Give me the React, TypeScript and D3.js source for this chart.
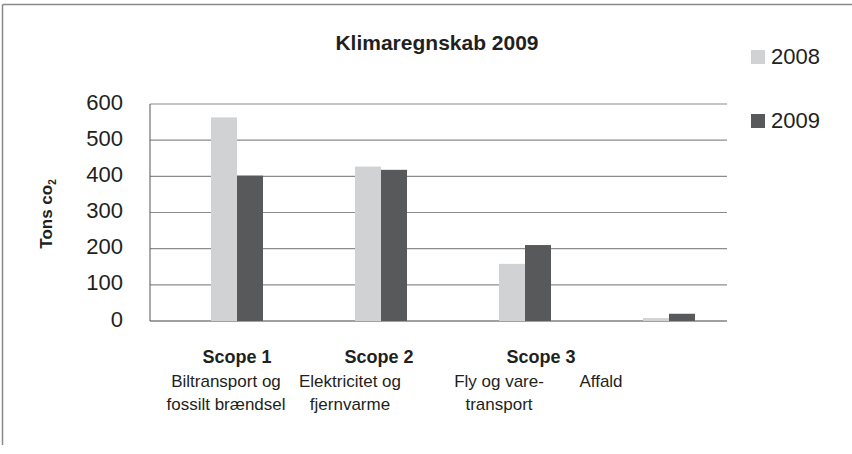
import React from "react";
import * as d3 from "d3";

const categories = ["Biltransport og fossilt brændsel", "Elektricitet og fjernvarme", "Fly og varetransport", "Affald"];
const categoryLines = [
  ["Biltransport og", "fossilt brændsel"],
  ["Elektricitet og", "fjernvarme"],
  ["Fly og vare-", "transport"],
  ["Affald"],
];
const scopeLabels = ["Scope 1", "Scope 2", "Scope 3"];
const scopeOf = [0, 1, 2, 2];
const seriesNames = ["2008", "2009"];
const values2008 = [563, 427, 158, 8];
const values2009 = [402, 418, 210, 20];
const yTicks = [0, 100, 200, 300, 400, 500, 600];

const title = "Klimaregnskab 2009";
const colors: Record<string, string> = { "2008": "#d1d2d4", "2009": "#58595b" };

// layout (not data)
const labelDx = [-11, -31, -26, -68];
const scopeDx = [0, -2, -56];
const FONT = "'Liberation Sans', Arial, Helvetica, sans-serif";
const TEXT = "#231f20";

export default function App() {
  const W = 852, H = 454;
  const plotLeft = 150, plotRight = 727;
  const y = d3.scaleLinear().domain([0, 600]).range([321, 104]);
  const x0 = d3.scaleBand<string>().domain(categories).range([165, 741]);
  const x1 = d3.scaleBand<string>().domain(seriesNames).range([0, 52]);
  const series = [values2008, values2009];
  const center = (i: number) => (x0(categories[i]) as number) + x0.bandwidth() / 2;

  const scopeX = scopeLabels.map((_, s) => {
    const idx = scopeOf.map((v, i) => (v === s ? i : -1)).filter((i) => i >= 0);
    return d3.mean(idx.map((i) => center(i))) as number;
  });

  return (
    <svg width={W} height={H} style={{ position: "absolute", left: 0, top: 0, background: "#fff" }} fontFamily={FONT}>
      <rect x={0} y={0} width={W} height={H} fill="#fff" />
      {/* outer frame */}
      <line x1={2.5} x2={W} y1={4.5} y2={4.5} stroke="#8a8a8a" strokeWidth={1.5} />
      <line x1={2.5} x2={2.5} y1={4.5} y2={445} stroke="#8a8a8a" strokeWidth={1.5} />

      {/* title */}
      <text x={437} y={50} textAnchor="middle" fontSize={21} fontWeight="bold" fill={TEXT}>{title}</text>

      {/* gridlines */}
      {yTicks.map((t) => (
        <line key={t} x1={plotLeft} x2={plotRight} y1={y(t)} y2={y(t)} stroke={t === 0 ? "#808080" : "#8c8c8c"} strokeWidth={t === 0 ? 1.6 : 1.2} />
      ))}
      <line x1={plotLeft} x2={plotLeft} y1={y(600)} y2={y(0)} stroke="#555" strokeWidth={1} />

      {/* tick labels */}
      {yTicks.map((t) => (
        <text key={t} x={123} y={y(t) - 2} textAnchor="end" dominantBaseline="central" fontSize={22} fill={TEXT}>{t}</text>
      ))}

      {/* y axis title */}
      <text transform={`translate(52,214) rotate(-90)`} textAnchor="middle" fontSize={17} fontWeight="bold" fill={TEXT}>
        Tons co<tspan fontSize={10} dy={4}>2</tspan>
      </text>

      {/* bars */}
      {categories.map((c, i) => (
        <g key={c}>
          {seriesNames.map((s, k) => {
            const v = series[k][i];
            const bx = center(i) - x1.range()[1] / 2 + (x1(s) as number);
            return <rect key={s} x={bx} y={y(v)} width={x1.bandwidth()} height={y(0) - y(v)} fill={colors[s]} />;
          })}
        </g>
      ))}

      {/* category labels */}
      {scopeLabels.map((s, k) => (
        <text key={s} x={scopeX[k] + scopeDx[k]} y={363} textAnchor="middle" fontSize={18} fontWeight="bold" fill={TEXT}>{s}</text>
      ))}
      {categoryLines.map((lines, i) => (
        <text key={i} textAnchor="middle" fontSize={17} fill={TEXT}>
          {lines.map((l, j) => (
            <tspan key={j} x={center(i) + labelDx[i]} y={387 + j * 23}>{l}</tspan>
          ))}
        </text>
      ))}

      {/* legend */}
      {seriesNames.map((s, k) => (
        <g key={s} transform={`translate(751,${50 + k * 64})`}>
          <rect x={0} y={0} width={14} height={14} fill={colors[s]} />
          <text x={20} y={14} fontSize={22} fill={TEXT}>{s}</text>
        </g>
      ))}
    </svg>
  );
}
